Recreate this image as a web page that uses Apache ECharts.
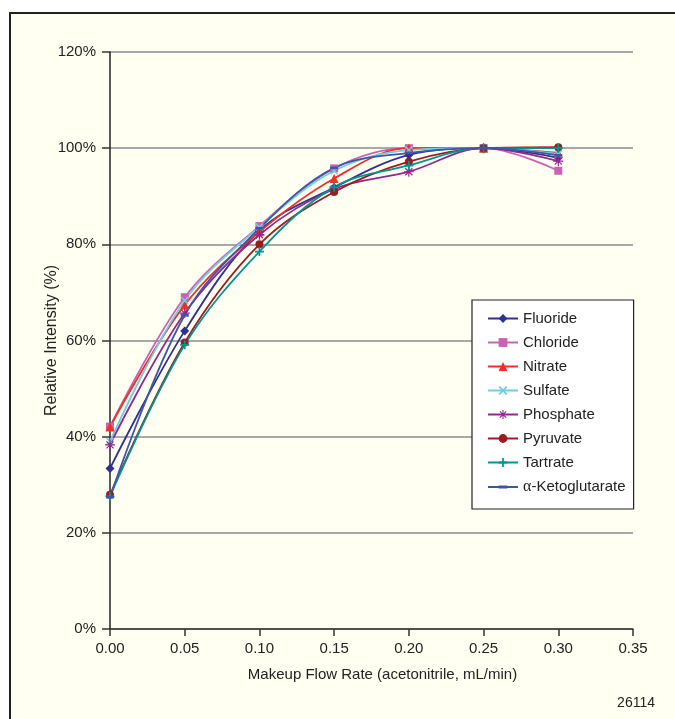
<!DOCTYPE html>
<html>
<head>
<meta charset="utf-8">
<script src="https://cdn.jsdelivr.net/npm/echarts@6/dist/echarts.min.js"></script>
<style>html,body{margin:0;padding:0;background:#fff;}#c{width:675px;height:719px;}</style>
</head>
<body>
<div id="c"></div>
<script>
const flowRates = [0, 0.05, 0.10, 0.15, 0.20, 0.25, 0.30];
const fluoride  = [33.4, 62.0, 82.8, 91.8, 98.6, 100, 98.0];
const chloride  = [42.1, 69.0, 83.8, 95.8, 100.0, 100, 95.3];
const nitrate   = [42.0, 67.4, 82.6, 93.7, 100.0, 100, 99.0];
const sulfate   = [39.0, 68.3, 83.6, 95.3, 99.6, 100, 98.8];
const phosphate = [38.3, 65.7, 82.0, 91.5, 95.1, 100, 97.3];
const pyruvate  = [27.9, 59.6, 80.0, 90.9, 97.2, 100, 100.2];
const tartrate  = [27.6, 59.1, 78.5, 91.9, 96.4, 100, 100.0];
const ketoglutarate = [27.4, 65.3, 83.3, 95.9, 99.0, 100, 98.5];
const yTicks = [0, 20, 40, 60, 80, 100, 120];
const xTicks = [0, 0.05, 0.10, 0.15, 0.20, 0.25, 0.30, 0.35];

const FONT = "'Liberation Sans Narrow', 'Arial Narrow', 'Liberation Sans', sans-serif";

const PLUS = 'path://M4,0H6V4H10V6H6V10H4V6H0V4H4Z';
const XMARK = 'path://M1.4,0L5,3.6L8.6,0L10,1.4L6.4,5L10,8.6L8.6,10L5,6.4L1.4,10L0,8.6L3.6,5L0,1.4Z';
const STAR = 'path://M4.4,0H5.6V3.55L8.1,1.05L8.95,1.9L6.45,4.4H10V5.6H6.45L8.95,8.1L8.1,8.95L5.6,6.45V10H4.4V6.45L1.9,8.95L1.05,8.1L3.55,5.6H0V4.4H3.55L1.05,1.9L1.9,1.05L4.4,3.55Z';
const DASH = 'path://M0,0H0.01V0.01H0ZM0,3.3H10V6.7H0ZM0,9.99H0.01V10H0Z';

const seriesDefs = [
  {name:'Fluoride', data:fluoride, color:'#2e3192', symbol:'diamond', size:9},
  {name:'Chloride', data:chloride, color:'#c962b3', symbol:'rect', size:8},
  {name:'Nitrate', data:nitrate, color:'#ee3124', symbol:'triangle', size:9},
  {name:'Sulfate', data:sulfate, color:'#6fcde6', symbol:XMARK, size:8},
  {name:'Phosphate', data:phosphate, color:'#92278f', symbol:STAR, size:10},
  {name:'Pyruvate', data:pyruvate, color:'#9b1c20', symbol:'circle', size:8},
  {name:'Tartrate', data:tartrate, color:'#00958f', symbol:PLUS, size:9},
  {name:'α-Ketoglutarate', data:ketoglutarate, color:'#3f56a6', symbol:DASH, size:8}
];

const chart = echarts.init(document.getElementById('c'), null, {renderer:'canvas'});
chart.setOption({
  backgroundColor:'#ffffff',
  animation:false,
  textStyle:{fontFamily:FONT},
  graphic:[
    {type:'rect', z:-10, silent:true, shape:{x:10, y:13, width:700, height:720},
     style:{fill:'#fffff2', stroke:'#222', lineWidth:2}},
    {type:'text', z:10, silent:true, right:20, top:696,
     style:{text:'26114', fill:'#222', font:"14px " + FONT}}
  ],
  grid:{left:110, right:42, top:52, bottom:90, containLabel:false},
  xAxis:{
    type:'value', min:0, max:0.35, interval:0.05,
    name:'Makeup Flow Rate (acetonitrile, mL/min)', nameLocation:'middle', nameGap:38,
    nameTextStyle:{fontSize:15, color:'#222', fontFamily:FONT, padding:[0,0,0,22]},
    axisLine:{show:true, onZero:false, lineStyle:{color:'#333', width:1.5}},
    axisTick:{show:true, inside:false, length:7, lineStyle:{color:'#333', width:1.5}},
    axisLabel:{fontSize:15, color:'#222', margin:12, formatter:v=>v.toFixed(2)},
    splitLine:{show:false}
  },
  yAxis:{
    type:'value', min:0, max:120, interval:20,
    name:'Relative Intensity (%)', nameLocation:'middle', nameGap:50, nameRotate:90,
    nameMoveOverlap:false,
    nameTextStyle:{fontSize:16, color:'#222', fontFamily:FONT},
    axisLine:{show:true, lineStyle:{color:'#222', width:1.5}},
    axisTick:{show:true, inside:false, length:8, lineStyle:{color:'#333', width:1.5}},
    axisLabel:{fontSize:15, color:'#222', margin:14, formatter:'{value}%'},
    splitLine:{show:true, lineStyle:{color:'#a8a8a8', width:2}}
  },
  legend:{
    orient:'vertical', left:472, top:300,
    backgroundColor:'#ffffff', borderColor:'#222', borderWidth:1.2, borderRadius:0,
    padding:[11, 8, 14, 15], itemGap:9, itemWidth:30, itemHeight:11,
    textStyle:{fontSize:15, color:'#222', fontFamily:FONT, lineHeight:15,
      rich:{g:{fontFamily:"'Liberation Serif', 'DejaVu Serif', serif", fontSize:16, color:'#222', lineHeight:15}}},
    formatter:function(n){ return n.charAt(0)==='α' ? '{g|α}' + n.slice(1) : n; },
    data:seriesDefs.map(s=>s.name)
  },
  series:seriesDefs.map(s=>({
    name:s.name, type:'line', smooth:0.35,
    data:flowRates.map((x,i)=>[x, s.data[i]]),
    symbol:s.symbol, symbolSize:s.size, symbolKeepAspect:true, showSymbol:true,
    itemStyle:{color:s.color, borderWidth:0},
    lineStyle:{color:s.color, width:1.8},
    emphasis:{disabled:true}
  }))
});
</script>
</body>
</html>
